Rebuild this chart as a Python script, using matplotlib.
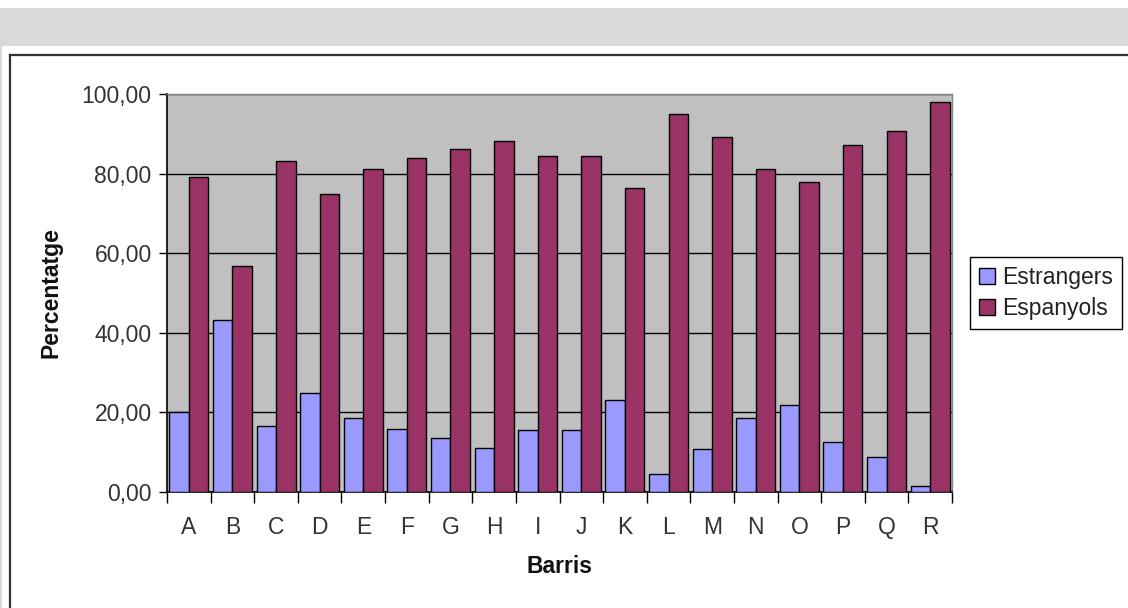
import numpy as np
import matplotlib.pyplot as plt
from matplotlib.patches import Rectangle
from matplotlib.lines import Line2D

plt.rcParams['font.family'] = ['Liberation Sans', 'DejaVu Sans']

# Data
barris = ['A', 'B', 'C', 'D', 'E', 'F', 'G', 'H', 'I', 'J',
          'K', 'L', 'M', 'N', 'O', 'P', 'Q', 'R']
estrangers = [20.2, 43.2, 16.7, 25.0, 18.7, 15.9, 13.5, 11.1, 15.5, 15.5,
              23.0, 4.6, 10.7, 18.7, 21.9, 12.6, 8.7, 1.4]
espanyols = [79.2, 56.8, 83.2, 74.8, 81.2, 84.0, 86.3, 88.3, 84.3, 84.3,
             76.4, 94.9, 89.2, 81.2, 78.0, 87.2, 90.8, 98.0]
yticks = [0, 20, 40, 60, 80, 100]

W, H = 1128, 608
fig = plt.figure(figsize=(W / 100, H / 100), dpi=100)
fig.patch.set_facecolor('white')

# page decorations: gray band on top, thin strip left, chart border
fig.patches.append(Rectangle((0, 1 - 46 / H), 1, 38 / H, transform=fig.transFigure,
                             facecolor='#d9d9d9', edgecolor='none', zorder=0))
fig.patches.append(Rectangle((0, 0), 2 / W, 1 - 46 / H, transform=fig.transFigure,
                             facecolor='#d9d9d9', edgecolor='none', zorder=0))
fig.lines.append(Line2D([10 / W, 1], [1 - 55 / H, 1 - 55 / H], transform=fig.transFigure,
                        color='#333333', linewidth=1.6))
fig.lines.append(Line2D([10 / W, 10 / W], [0, 1 - 55 / H], transform=fig.transFigure,
                        color='#333333', linewidth=1.6))

ax = fig.add_axes([167 / W, (H - 492) / H, 785 / W, 398 / H])
ax.set_facecolor('#c0c0c0')

x = np.arange(len(barris))
w = 0.447
ax.bar(x - w / 2, estrangers, width=w, color='#9999ff', edgecolor='black',
       linewidth=1, label='Estrangers', zorder=3)
ax.bar(x + w / 2, espanyols, width=w, color='#993366', edgecolor='black',
       linewidth=1, label='Espanyols', zorder=3)

ax.set_xlim(-0.5, len(barris) - 0.5)
ax.set_ylim(0, 100)
ax.set_yticks(yticks)
ax.set_yticklabels([f'{v:.2f}'.replace('.', ',') for v in yticks], fontsize=16.5,
                   color='#333333')
ax.yaxis.grid(True, color='black', linewidth=1, zorder=1)
ax.set_axisbelow(True)

ax.set_xticks(x)
ax.set_xticklabels(barris, fontsize=16.5, color='#333333')
ax.set_xticks(np.arange(-0.5, len(barris)), minor=True)
ax.tick_params(axis='x', which='major', length=0, pad=17)
ax.tick_params(axis='x', which='minor', length=8, width=1, direction='out')
ax.tick_params(axis='y', length=6, width=1, direction='out', pad=5)

for s in ['top', 'right']:
    ax.spines[s].set_color('#888888')
    ax.spines[s].set_linewidth(1)
for s in ['left', 'bottom']:
    ax.spines[s].set_color('black')
    ax.spines[s].set_linewidth(1.2)

ax.set_xlabel('Barris', fontsize=16.5, fontweight='bold', labelpad=12, color='#111111')
ax.set_ylabel('Percentatge', fontsize=16.5, fontweight='bold', labelpad=14, color='#111111')

leg = ax.legend(loc='center left', bbox_to_anchor=(970 / W, 1 - 293 / H),
                bbox_transform=fig.transFigure, fontsize=16.5, frameon=True,
                fancybox=False, framealpha=1, edgecolor='black',
                handlelength=0.7, handleheight=0.7, handletextpad=0.3,
                borderpad=0.4, labelspacing=0.35, borderaxespad=0)
leg.get_frame().set_linewidth(1)
for t in leg.get_texts():
    t.set_color('#222222')

fig.savefig('out.png', dpi=100)
